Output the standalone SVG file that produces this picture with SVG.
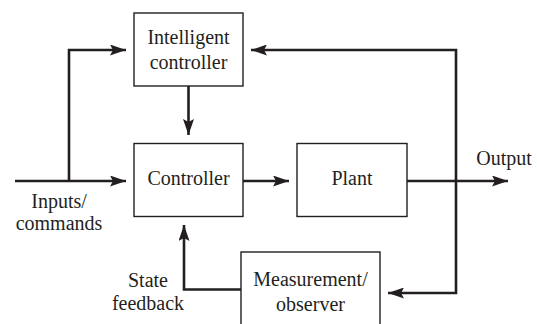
<svg xmlns="http://www.w3.org/2000/svg" width="537" height="324" viewBox="0 0 537 324">
<style>
.box{fill:#fff;stroke:#231f20;stroke-width:1.4}
.conn{fill:none;stroke:#231f20;stroke-width:2.6}
text{font-family:"Liberation Serif","Times New Roman",serif;font-size:20px;fill:#231f20;text-anchor:middle}
</style>
<defs>
<marker id="ah" viewBox="0 0 16 11" refX="16" refY="5.5" markerWidth="16" markerHeight="11" markerUnits="userSpaceOnUse" orient="auto">
<path d="M0,0 L16,5.5 L0,11 L3,5.5 z" fill="#231f20"/>
</marker>
</defs>
<rect width="537" height="324" fill="#fff"/>
<g id="connectors">
<path class="conn" d="M15,181 H126" marker-end="url(#ah)"/>
<path class="conn" d="M69,181 V50 H126" marker-end="url(#ah)"/>
<path class="conn" d="M188.5,86 V135" marker-end="url(#ah)"/>
<path class="conn" d="M243,181 H289" marker-end="url(#ah)"/>
<path class="conn" d="M407,181 H508" marker-end="url(#ah)"/>
<path class="conn" d="M456,181 V50 H251" marker-end="url(#ah)"/>
<path class="conn" d="M456,181 V293 H388" marker-end="url(#ah)"/>
<path class="conn" d="M241,289.5 H184 V225" marker-end="url(#ah)"/>
</g>
<g id="intelligent-controller">
<rect class="box" x="134" y="13" width="109" height="73"/>
<text x="188.5" y="44">Intelligent</text>
<text x="188.5" y="69">controller</text>
</g>
<g id="controller">
<rect class="box" x="134" y="143.5" width="109" height="73"/>
<text x="188.5" y="185">Controller</text>
</g>
<g id="plant">
<rect class="box" x="297" y="143.5" width="110" height="73"/>
<text x="352" y="185">Plant</text>
</g>
<g id="measurement-observer">
<rect class="box" x="241" y="252" width="139" height="80"/>
<text x="310.5" y="286">Measurement/</text>
<text x="310.5" y="311">observer</text>
</g>
<g id="labels">
<text x="504" y="165">Output</text>
<text x="59" y="208">Inputs/</text>
<text x="59" y="230">commands</text>
<text x="148" y="287">State</text>
<text x="148" y="310">feedback</text>
</g>
</svg>
